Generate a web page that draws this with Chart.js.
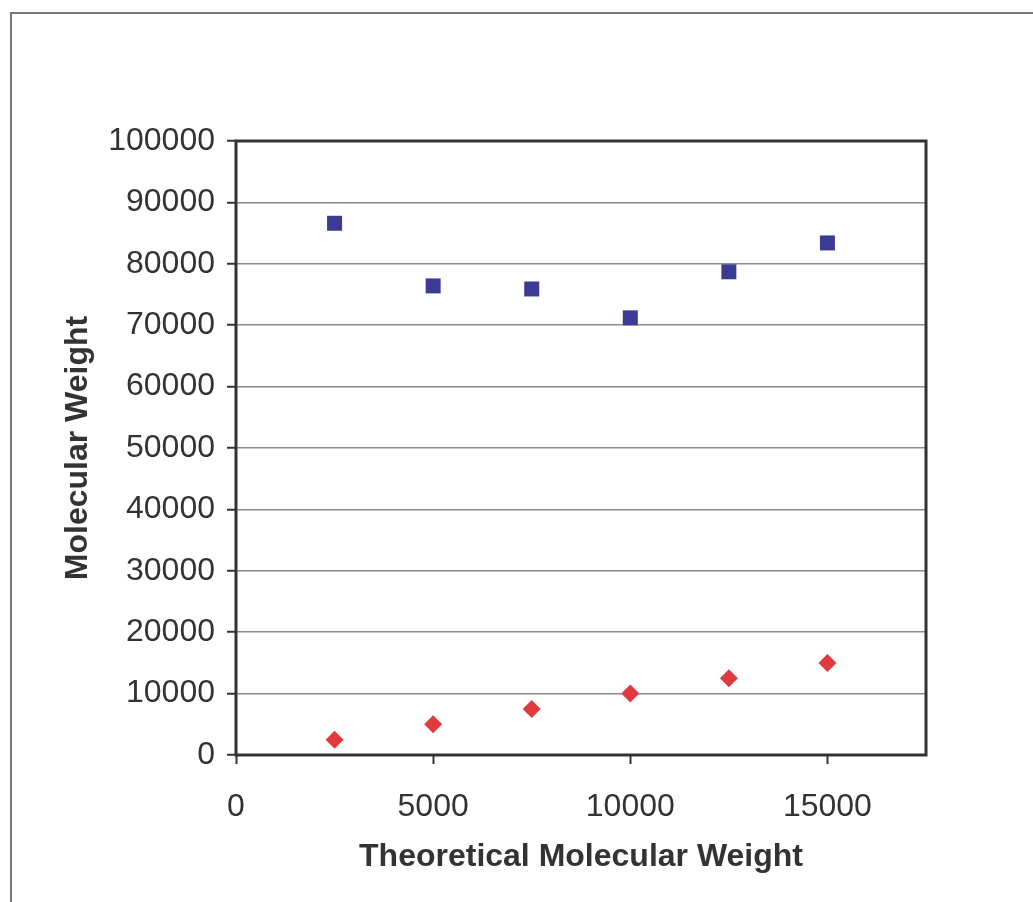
<!DOCTYPE html>
<html>
<head>
<meta charset="utf-8">
<script src="https://cdn.jsdelivr.net/npm/chart.js@4.4.0/dist/chart.umd.min.js"></script>
<style>
  html, body { margin: 0; padding: 0; background: #ffffff; }
  #wrap { width: 1033px; height: 902px; position: relative; }
</style>
</head>
<body>
<div id="wrap"><canvas id="c" width="1033" height="902"></canvas></div>
<script>
// Theoretical molecular weight of each sample (x values)
const theoretical = [2500, 5000, 7500, 10000, 12500, 15000];
// Measured molecular weight (blue squares)
const measured = [86600, 76400, 75900, 71200, 78700, 83400];
// Expected molecular weight, equal to the theoretical value (red diamonds)
const expected = [2500, 5000, 7500, 10000, 12500, 15000];
// Axis tick labels
const xTicks = [0, 5000, 10000, 15000];
const yTicks = [0, 10000, 20000, 30000, 40000, 50000, 60000, 70000, 80000, 90000, 100000];

const FONT = "'Liberation Sans', Arial, Helvetica, sans-serif";
const TEXT = '#333333';

const toPoints = (xs, ys) => xs.map((x, i) => ({ x: x, y: ys[i] }));

// Outer frame of the figure and the box around the plot area
const framePlugin = {
  id: 'frames',
  beforeDraw(chart) {
    const ctx = chart.ctx;
    ctx.save();
    ctx.strokeStyle = '#777777';
    ctx.lineWidth = 2;
    ctx.beginPath();
    ctx.moveTo(11, 902);
    ctx.lineTo(11, 13);
    ctx.lineTo(1033, 13);
    ctx.stroke();
    ctx.restore();
  },
  beforeDatasetsDraw(chart) {
    const { ctx, chartArea: a } = chart;
    ctx.save();
    ctx.strokeStyle = '#333333';
    ctx.lineWidth = 3;
    ctx.strokeRect(a.left, a.top, a.right - a.left, a.bottom - a.top);
    ctx.restore();
  }
};

new Chart(document.getElementById('c'), {
  type: 'scatter',
  data: {
    datasets: [
      {
        label: 'Measured',
        data: toPoints(theoretical, measured),
        pointStyle: 'rect',
        pointRadius: 10.6,
        pointHoverRadius: 10.6,
        backgroundColor: '#3b3b95',
        borderColor: '#3b3b95',
        borderWidth: 0
      },
      {
        label: 'Theoretical',
        data: toPoints(theoretical, expected),
        pointStyle: 'rectRot',
        pointRadius: 9,
        pointHoverRadius: 9,
        backgroundColor: '#e03a3e',
        borderColor: '#e03a3e',
        borderWidth: 0
      }
    ]
  },
  options: {
    responsive: false,
    animation: false,
    events: [],
    layout: { padding: { left: 59, right: 107, top: 141, bottom: 26 } },
    plugins: {
      legend: { display: false },
      tooltip: { enabled: false }
    },
    scales: {
      x: {
        type: 'linear',
        min: 0,
        max: 17500,
        afterBuildTicks: s => { s.ticks = xTicks.map(v => ({ value: v })); },
        afterFit: s => { s.height = 121; },
        ticks: {
          color: TEXT,
          padding: 24,
          font: { family: FONT, size: 32 },
          callback: v => String(v)
        },
        grid: {
          drawOnChartArea: false,
          drawTicks: true,
          tickLength: 9,
          tickColor: '#333333',
          tickWidth: 2
        },
        border: { display: false },
        title: {
          display: true,
          text: 'Theoretical Molecular Weight',
          color: TEXT,
          padding: 0,
          font: { family: FONT, size: 32, weight: 'bold' }
        }
      },
      y: {
        type: 'linear',
        min: 0,
        max: 100000,
        afterBuildTicks: s => { s.ticks = yTicks.map(v => ({ value: v })); },
        afterFit: s => { s.width = 177; },
        ticks: {
          color: TEXT,
          padding: 12,
          font: { family: FONT, size: 32 },
          callback: v => String(v)
        },
        grid: {
          color: '#8c8c8c',
          lineWidth: 1.5,
          drawTicks: true,
          tickLength: 9,
          tickColor: '#333333',
          tickWidth: 2
        },
        border: { display: false },
        title: {
          display: true,
          text: 'Molecular Weight',
          color: TEXT,
          padding: 0,
          font: { family: FONT, size: 32, weight: 'bold' }
        }
      }
    }
  },
  plugins: [framePlugin]
});
</script>
</body>
</html>
